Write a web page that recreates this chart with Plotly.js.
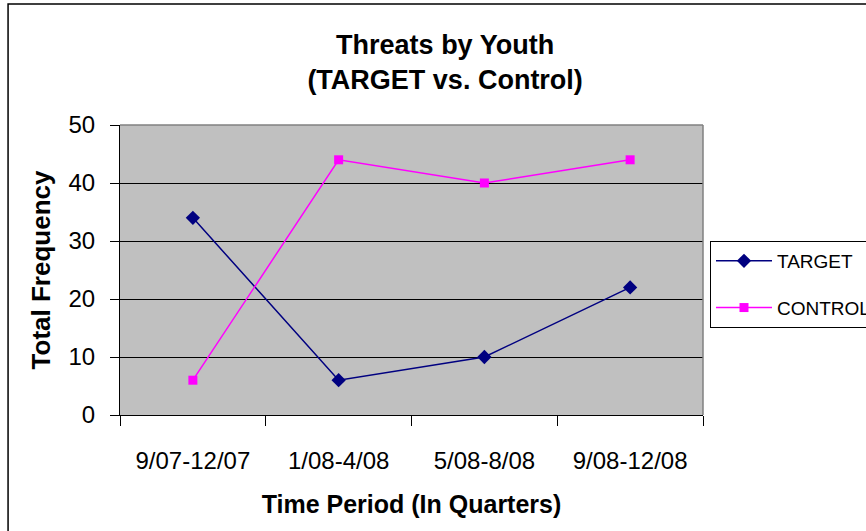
<!DOCTYPE html>
<html>
<head>
<meta charset="utf-8">
<script src="https://cdn.plot.ly/plotly-3.0.1.min.js"></script>
<style>html,body{margin:0;padding:0;background:#fff;}#chart{width:866px;height:531px;}</style>
</head>
<body>
<div id="chart"></div>
<script>
const periods = ["9/07-12/07", "1/08-4/08", "5/08-8/08", "9/08-12/08"];
const targetValues = [34, 6, 10, 22];
const controlValues = [6, 44, 40, 44];
const yTicks = [0, 10, 20, 30, 40, 50];

const font = "Arial, 'Liberation Sans', sans-serif";

const traces = [
  {
    x: periods, y: targetValues, name: "TARGET", type: "scatter", mode: "lines+markers",
    legendgroup: "a",
    line: {color: "#000080", width: 1.5},
    marker: {symbol: "diamond", size: 11, color: "#000080"}
  },
  {
    x: periods, y: controlValues, name: "CONTROL", type: "scatter", mode: "lines+markers",
    legendgroup: "b",
    line: {color: "#FF00FF", width: 1.5},
    marker: {symbol: "square", size: 9, color: "#FF00FF"}
  }
];

const layout = {
  width: 866, height: 531,
  margin: {l: 120, r: 163, t: 125, b: 116, autoexpand: false},
  paper_bgcolor: "#ffffff",
  plot_bgcolor: "#C0C0C0",
  font: {family: font, color: "#000"},
  title: {
    text: "<b>Threats by Youth</b><br><b>(TARGET vs. Control)</b>",
    font: {size: 27, family: font, color: "#000"},
    x: 0.514, xref: "container", xanchor: "center",
    y: 0.898, yref: "container", yanchor: "top"
  },
  xaxis: {
    type: "category",
    range: [-0.5, 3.5],
    tickson: "boundaries",
    ticks: "outside", ticklen: 10, tickcolor: "#000", tickwidth: 1,
    showline: true, linecolor: "#000", linewidth: 1,
    showgrid: false,
    tickfont: {size: 24, family: font},
    ticklabelstandoff: 24,
    automargin: false,
    title: {text: "<b>Time Period (In Quarters)</b>", font: {size: 25, family: font}, standoff: 22},
    fixedrange: true
  },
  yaxis: {
    range: [0, 50],
    tickvals: yTicks,
    ticks: "outside", ticklen: 9, tickcolor: "#000", tickwidth: 1,
    showline: true, linecolor: "#000", linewidth: 1,
    showgrid: true, gridcolor: "#000", gridwidth: 1,
    zeroline: false,
    tickfont: {size: 24, family: font},
    ticklabelstandoff: 10,
    automargin: false,
    title: {text: "<b>Total Frequency</b>", font: {size: 26, family: font}, standoff: 10},
    fixedrange: true
  },
  showlegend: true,
  legend: {
    x: 1.012, xanchor: "left", y: 0.6, yanchor: "top",
    bgcolor: "#ffffff", bordercolor: "#000", borderwidth: 1,
    font: {size: 19, family: font},
    traceorder: "grouped", tracegroupgap: 19,
    itemwidth: 56
  },
  shapes: [
    {type: "line", xref: "paper", yref: "paper", x0: 0, x1: 1, y0: 1, y1: 1, line: {color: "#808080", width: 1.5}, layer: "above"},
    {type: "line", xref: "paper", yref: "paper", x0: 1, x1: 1, y0: 0, y1: 1, line: {color: "#808080", width: 1.5}, layer: "above"},
    {type: "rect", xref: "paper", yref: "paper", x0: -0.192, x1: 2, y0: -1, y1: 1.417, line: {color: "#000", width: 1.5}, fillcolor: "rgba(0,0,0,0)", layer: "below"}
  ]
};

Plotly.newPlot("chart", traces, layout, {displayModeBar: false, staticPlot: true});
</script>
</body>
</html>
